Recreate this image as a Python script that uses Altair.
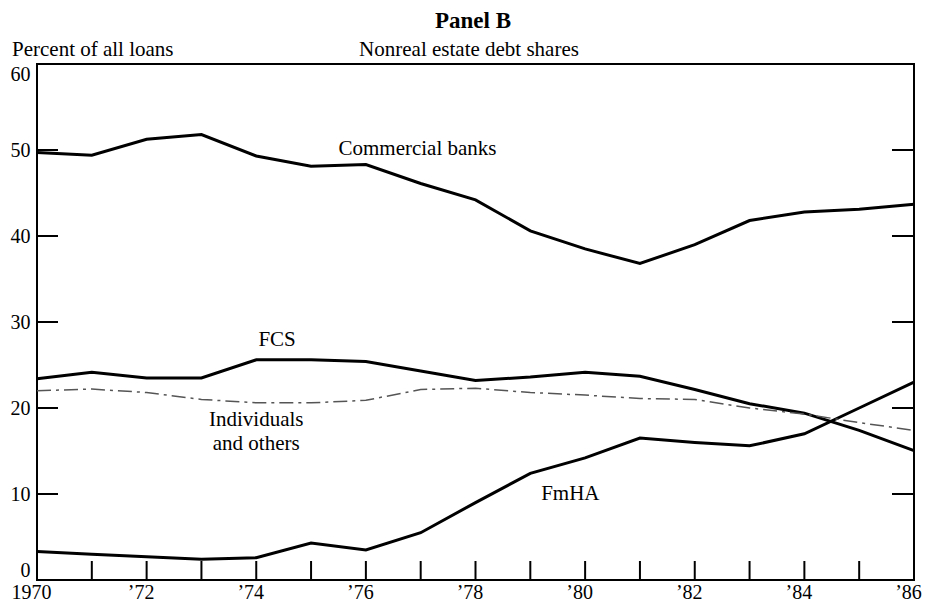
import altair as alt
import pandas as pd

years = list(range(1970, 1987))
commercial_banks = [49.7, 49.4, 51.25, 51.8, 49.3, 48.1, 48.3, 46.1, 44.2, 40.6, 38.5, 36.8, 39.0, 41.8, 42.8, 43.1, 43.7]
fcs = [23.4, 24.15, 23.5, 23.5, 25.6, 25.6, 25.4, 24.3, 23.2, 23.6, 24.15, 23.7, 22.15, 20.5, 19.4, 17.4, 15.05]
individuals = [22.0, 22.2, 21.8, 21.0, 20.6, 20.6, 20.9, 22.15, 22.3, 21.8, 21.5, 21.1, 21.0, 20.0, 19.3, 18.3, 17.4]
fmha = [3.3, 3.0, 2.7, 2.4, 2.6, 4.3, 3.5, 5.5, 9.0, 12.4, 14.2, 16.5, 16.0, 15.6, 17.0, 20.0, 23.0]

y_tick_values = [10, 20, 30, 40, 50]
y_label_values = [0, 10, 20, 30, 40, 50, 60]
x_label_values = [1970, 1972, 1974, 1976, 1978, 1980, 1982, 1984, 1986]
x_minor_ticks = list(range(1971, 1986))

label_text = ["FCS", "Individuals", "and others", "FmHA"]
label_year = [1974.38, 1974.0, 1974.0, 1979.73]
label_value = [27.9, 18.65, 15.8, 10.0]
banks_label = ["Commercial banks"]
banks_label_year = [1975.5]
banks_label_value = [50.1]

FONT = "Liberation Serif"
W, H = 877, 516

solid = pd.DataFrame({
    "year": years * 3,
    "value": commercial_banks + fcs + fmha,
    "series": ["Commercial banks"] * 17 + ["FCS"] * 17 + ["FmHA"] * 17,
})
ind_df = pd.DataFrame({"year": years, "value": individuals})
labels_df = pd.DataFrame({"text": label_text, "year": label_year, "value": label_value})
banks_df = pd.DataFrame({"text": banks_label, "year": banks_label_year, "value": banks_label_value})

xscale = alt.Scale(domain=[1970, 1986], nice=False, zero=False)
yscale = alt.Scale(domain=[0, 60], nice=False)

xaxis = alt.Axis(values=x_label_values, ticks=False, domain=False, grid=False, title=None,
                 labelExpr="datum.value == 1970 ? '1970' : '\u2019' + slice(toString(datum.value), 2)",
                 labelFont=FONT, labelFontSize=20, labelColor="black", labelPadding=2,
                 labelOffset=-6, labelOverlap=False, labelFlush=False)
yaxis = alt.Axis(values=y_label_values, ticks=False, domain=False, grid=False, title=None,
                 labelFont=FONT, labelFontSize=20, labelColor="black", labelPadding=7,
                 labelFlush=True, labelOverlap=False)

lines = alt.Chart(solid).mark_line(color="black", strokeWidth=3).encode(
    x=alt.X("year:Q", scale=xscale, axis=xaxis),
    y=alt.Y("value:Q", scale=yscale, axis=yaxis),
    detail="series:N",
)

ind_line = alt.Chart(ind_df).mark_line(color="#555555", strokeWidth=1.5, strokeDash=[14, 5, 3, 5]).encode(
    x=alt.X("year:Q", scale=xscale),
    y=alt.Y("value:Q", scale=yscale),
)

ytick_df = pd.DataFrame({"value": y_tick_values})
xtick_df = pd.DataFrame({"year": x_minor_ticks})

left_ticks = alt.Chart(ytick_df).mark_rule(color="black", strokeWidth=2).encode(
    y=alt.Y("value:Q", scale=yscale), x=alt.value(0), x2=alt.value(21))
right_ticks = alt.Chart(ytick_df).mark_rule(color="black", strokeWidth=2).encode(
    y=alt.Y("value:Q", scale=yscale), x=alt.value(W - 22), x2=alt.value(W))
bottom_ticks = alt.Chart(xtick_df).mark_rule(color="black", strokeWidth=2).encode(
    x=alt.X("year:Q", scale=xscale), y=alt.value(H), y2=alt.value(H - 19))

series_labels = alt.Chart(labels_df).mark_text(font=FONT, fontSize=21, color="black",
                                               align="center", baseline="middle").encode(
    x=alt.X("year:Q", scale=xscale), y=alt.Y("value:Q", scale=yscale), text="text:N")
banks_text = alt.Chart(banks_df).mark_text(font=FONT, fontSize=21, color="black",
                                           align="left", baseline="middle").encode(
    x=alt.X("year:Q", scale=xscale), y=alt.Y("value:Q", scale=yscale), text="text:N")

title_df = pd.DataFrame({"text": ["Panel B"]})
sub_df = pd.DataFrame({"text": ["Nonreal estate debt shares"]})
ytitle_df = pd.DataFrame({"text": ["Percent of all loans"]})

title = alt.Chart(title_df).mark_text(font=FONT, fontSize=23, fontWeight="bold", color="black",
                                      align="center", baseline="alphabetic").encode(
    text="text:N", x=alt.value(436), y=alt.value(-36))
subtitle = alt.Chart(sub_df).mark_text(font=FONT, fontSize=21, color="black",
                                       align="center", baseline="alphabetic").encode(
    text="text:N", x=alt.value(432), y=alt.value(-8))
ytitle = alt.Chart(ytitle_df).mark_text(font=FONT, fontSize=21, color="black",
                                        align="left", baseline="alphabetic").encode(
    text="text:N", x=alt.value(-25), y=alt.value(-8))

chart = alt.layer(
    lines, ind_line, left_ticks, right_ticks, bottom_ticks,
    series_labels, banks_text, title, subtitle, ytitle,
).properties(
    width=W, height=H,
    padding={"left": 29, "top": 56, "right": 9, "bottom": 22},
    autosize=alt.AutoSizeParams(type="none"),
    background="white",
).configure_view(stroke="black", strokeWidth=2)

chart.save("out.html", embed_options={"renderer": "svg", "actions": False})
